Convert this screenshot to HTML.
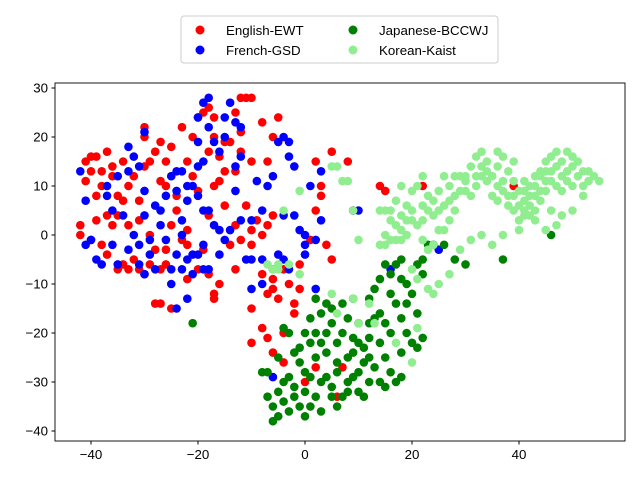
<!DOCTYPE html>
<html><head><meta charset="utf-8">
<style>
body{margin:0;background:#fff;}
svg{display:block;font-family:"Liberation Sans","DejaVu Sans",sans-serif;}
</style></head>
<body>
<svg id="chart" width="640" height="480">
  <rect x="55" y="83" width="570" height="358" fill="#fff" stroke="none"/>
  <g id="points"></g>
  <rect x="55" y="83" width="570" height="358" fill="none" stroke="#000" stroke-width="0.9"/>
  <g id="axes"></g>
  <g>
    <rect x="181" y="16" width="317" height="47" rx="3" fill="#fff" stroke="#ccc"/>
    <g><circle cx="200" cy="30" r="4.5" fill="red"/><text x="226" y="35" font-size="13.3">English-EWT</text></g>
    <g><circle cx="200" cy="50" r="4.5" fill="blue"/><text x="226" y="55" font-size="13.3">French-GSD</text></g>
    <g><circle cx="353" cy="30" r="4.5" fill="green"/><text x="379" y="35" font-size="13.3">Japanese-BCCWJ</text></g>
    <g><circle cx="353" cy="50" r="4.5" fill="lightgreen"/><text x="379" y="55" font-size="13.3">Korean-Kaist</text></g>
  </g>
</svg>
<script>
const xTicks=[-40,-20,0,20,40];
const yTicks=[30,20,10,0,-10,-20,-30,-40];
const seriesNames=["English-EWT","French-GSD","Japanese-BCCWJ","Korean-Kaist"];
const seriesColors=["red","blue","green","lightgreen"];
const english=[[-42,0],[-42,2],[-41,15],[-40,16],[-39,16],[-40,13],[-41,11],[-39,8],[-38,10],[-36,12],[-36,14],[-37,17],[-39,3],[-40,-1],[-38,-2],[-37,-4],[-37,4],[-35,-7],[-34,-6],[-33,-7],[-32,-5],[-33,2],[-34,7],[-35,8],[-36,2],[-31,-7],[-30,-8],[-29,-6],[-28,-3],[-27,-7],[-26,-6],[-28,-14],[-27,-14],[-25,-15],[-30,14],[-29,15],[-30,20],[-30,22],[-28,17],[-26,15],[-25,18],[-23,22],[-27,11],[-26,10],[-24,5],[-25,2],[-23,-1],[-22,-2],[-22,1],[-20,-7],[-19,-3],[-18,-8],[-17,-12],[-17,-13],[-18,4],[-17,10],[-16,11],[-15,13],[-18,17],[-17,20],[-19,25],[-18,26],[-17,24],[-15,19],[-16,16],[-14,19],[-13,13],[-12,17],[-12,21],[-12,28],[-11,28],[-10,28],[-13,25],[-10,15],[-8,23],[-7,15],[-6,20],[-5,24],[-11,6],[-9,3],[-10,1],[-12,-1],[-14,-2],[-13,-7],[-10,-2],[-8,0],[-7,2],[-6,4],[-8,-8],[-6,-9],[-7,-12],[-5,-13],[-10,-15],[-10,-22],[-8,-19],[-7,-21],[-4,-26],[-4,-20],[-2,-14],[-6,-24],[-1,-11],[-1,-6],[1,-1],[2,5],[2,15],[3,8],[5,17],[3,10],[4,-2],[5,-5],[8,15],[9,5],[14,10],[15,9],[22,10],[39,10],[6,-33],[7,-27],[0,-30],[-2,-16],[-3,-10],[-4,-7],[2,-27],[-20,9],[-21,12],[-22,15],[-32,12],[-33,10],[-35,4],[-31,3],[-29,0],[-20,24],[-24,8],[-6,-11],[-38,13],[-34,15],[-27,19],[-21,20],[-15,6],[-13,2],[-26,-3],[-31,7],[-16,-10],[-22,-9]];
const french=[[-42,13],[-41,7],[-40,-1],[-41,-2],[-39,-5],[-38,-6],[-37,10],[-37,8],[-36,5],[-34,4],[-35,12],[-33,13],[-31,14],[-32,16],[-33,18],[-30,21],[-35,-6],[-33,-3],[-31,-2],[-31,-6],[-30,-8],[-29,-4],[-29,-1],[-30,4],[-28,6],[-27,5],[-26,8],[-24,9],[-25,12],[-24,13],[-23,13],[-22,10],[-22,7],[-23,3],[-23,0],[-24,-4],[-25,-7],[-23,-7],[-22,-5],[-21,-4],[-20,-4],[-19,-7],[-18,-7],[-16,-4],[-15,-1],[-16,1],[-17,2],[-18,5],[-19,5],[-20,8],[-21,10],[-22,-13],[-24,-15],[-21,-8],[-19,-2],[-17,19],[-16,17],[-19,15],[-20,19],[-18,22],[-20,24],[-19,27],[-18,28],[-14,27],[-15,20],[-13,23],[-12,22],[-12,16],[-13,9],[-14,1],[-12,3],[-10,3],[-11,-5],[-10,-5],[-8,-5],[-8,5],[-7,10],[-6,12],[-5,19],[-4,20],[-3,16],[-3,19],[-4,4],[-2,4],[-1,1],[0,0],[1,10],[-2,14],[-5,-4],[-4,-5],[-3,-7],[-8,-10],[-10,-11],[-6,-29],[0,-4],[2,-1],[3,3],[3,13],[0,-2],[2,-11],[9,5],[10,5],[16,-7],[24,-2],[25,-3],[-13,14],[-9,11],[-30,9],[-36,-2],[-28,-7],[-26,-1],[-27,2],[-32,0],[-25,-10],[-20,14],[-15,24]];
const japanese=[[-6,-7],[-21,-18],[-8,-28],[-7,-28],[-5,-25],[-4,-19],[-3,-20],[-2,-24],[-1,-26],[0,-28],[1,-22],[1,-17],[2,-13],[3,-16],[4,-14],[4,-20],[5,-18],[6,-22],[7,-20],[8,-17],[9,-21],[10,-18],[11,-23],[12,-13],[13,-11],[14,-9],[15,-6],[16,-8],[17,-6],[18,-9],[19,-10],[20,-12],[21,-6],[22,-5],[17,-14],[18,-17],[19,-20],[20,-22],[21,-23],[22,-21],[16,-20],[15,-18],[14,-16],[13,-17],[12,-21],[11,-26],[10,-28],[9,-29],[8,-30],[7,-33],[6,-35],[5,-31],[4,-29],[3,-30],[2,-33],[1,-29],[0,-32],[-1,-35],[-2,-33],[-3,-36],[-4,-34],[-5,-37],[-6,-38],[-6,-35],[-4,-30],[-3,-29],[-2,-31],[0,-37],[1,-35],[3,-36],[5,-33],[6,-28],[8,-25],[9,-24],[10,-22],[12,-25],[13,-27],[14,-30],[15,-31],[16,-28],[17,-30],[18,-29],[14,-22],[15,-25],[12,-30],[11,-33],[10,-32],[8,-32],[6,-26],[4,-24],[2,-25],[0,-20],[-1,-23],[3,-22],[7,-14],[9,-13],[16,-12],[19,-14],[21,-16],[23,-2],[24,-2],[26,-2],[28,-5],[30,-6],[46,0],[37,-5],[18,-5],[22,-8],[-7,-33],[-5,-32],[2,-20],[5,-15],[12,-18],[18,-24]];
const korean=[[-1,9],[-4,5],[-6,-7],[-5,-6],[-3,-6],[-1,-8],[5,14],[6,14],[7,11],[8,11],[9,5],[10,-1],[14,5],[15,5],[16,3],[17,2],[18,4],[19,6],[20,9],[21,10],[22,12],[23,8],[24,7],[25,9],[26,6],[27,10],[28,12],[29,9],[30,11],[31,14],[32,16],[33,17],[34,15],[35,12],[36,14],[37,16],[38,13],[39,11],[40,9],[41,7],[42,8],[43,10],[44,12],[45,15],[46,16],[47,17],[48,15],[49,13],[50,14],[51,12],[52,10],[53,13],[54,12],[49,17],[48,12],[46,11],[45,9],[44,7],[43,5],[42,6],[41,4],[40,3],[39,5],[38,8],[37,9],[36,7],[35,8],[34,11],[33,12],[32,10],[31,8],[30,9],[28,5],[27,3],[26,1],[25,1],[24,-2],[23,-3],[22,-1],[21,2],[20,3],[19,0],[18,-1],[17,-1],[16,-1],[15,-2],[14,-2],[17,7],[18,10],[20,-7],[21,-9],[23,-11],[24,-12],[25,-10],[27,-8],[29,-3],[31,-1],[33,0],[35,-2],[37,0],[40,1],[43,3],[45,1],[47,2],[48,4],[50,5],[52,8],[46,5],[44,13],[41,11],[39,15],[36,17],[30,12],[26,12],[22,3],[12,-14],[13,-18],[17,-22],[20,-26],[21,-19],[9,-13],[5,-12],[10,-18],[6,-16],[-5,-7],[-7,-6],[41,9],[42,10],[43,8],[44,9],[40,6],[41,5],[42,4],[45,11],[46,13],[47,10],[48,9],[49,11],[50,10],[51,15],[50,16],[47,14],[45,13],[43,12],[39,8],[38,6],[37,11],[36,10],[34,13],[33,14],[32,12],[29,12],[28,8],[27,7],[25,5],[24,4],[23,5],[22,6],[20,5],[19,3],[18,1],[16,5],[15,0],[53,11],[55,11],[52,13]];

const NS="http://www.w3.org/2000/svg";
function sx(v){return 305+5.35*v;}
function sy(v){return 235-4.9*v;}
const pts=document.getElementById('points');
const allSeries=[english,french,japanese,korean];
allSeries.forEach((s,i)=>{
  const g=document.createElementNS(NS,'g');
  
  
  s.forEach(p=>{
    const c=document.createElementNS(NS,'circle');
    c.setAttribute('cx',sx(p[0]));c.setAttribute('cy',sy(p[1]));
    c.setAttribute('r',4.3);c.setAttribute('fill',seriesColors[i]);
    
    
    g.appendChild(c);
  });
  pts.appendChild(g);
});
const ax=document.getElementById('axes');
xTicks.forEach(t=>{
  const x=sx(t);
  const l=document.createElementNS(NS,'line');
  l.setAttribute('x1',x);l.setAttribute('x2',x);l.setAttribute('y1',441);l.setAttribute('y2',444.5);l.setAttribute('stroke','#000');
  
  
  ax.appendChild(l);
  const tx=document.createElementNS(NS,'text');
  tx.setAttribute('x',x);tx.setAttribute('y',459);tx.setAttribute('text-anchor','middle');tx.setAttribute('font-size','13.3');
  tx.textContent=t<0?'\u2212'+Math.abs(t):t;
  
  
  ax.appendChild(tx);
});
yTicks.forEach(t=>{
  const y=sy(t);
  const l=document.createElementNS(NS,'line');
  l.setAttribute('x1',51.5);l.setAttribute('x2',55);l.setAttribute('y1',y);l.setAttribute('y2',y);l.setAttribute('stroke','#000');
  
  
  ax.appendChild(l);
  const tx=document.createElementNS(NS,'text');
  tx.setAttribute('x',48);tx.setAttribute('y',y+4.5);tx.setAttribute('text-anchor','end');tx.setAttribute('font-size','13.3');
  tx.textContent=t<0?'\u2212'+Math.abs(t):t;
  
  
  ax.appendChild(tx);
});
</script>
</body></html>
